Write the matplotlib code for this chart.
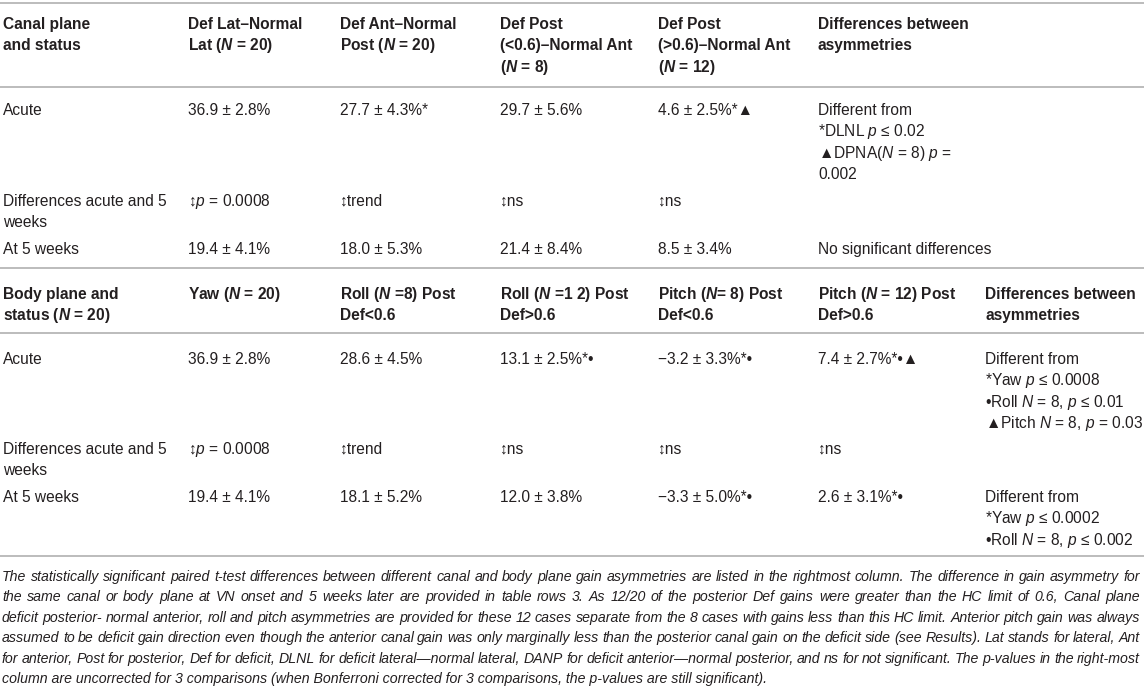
import matplotlib
matplotlib.use("Agg")
import matplotlib.pyplot as plt

plt.rcParams['font.family'] = ['Liberation Sans', 'DejaVu Sans']
plt.rcParams['mathtext.fontset'] = 'custom'
plt.rcParams['mathtext.rm'] = 'Liberation Sans'
plt.rcParams['mathtext.it'] = 'Liberation Sans:italic'
plt.rcParams['mathtext.bf'] = 'Liberation Sans:bold'
plt.rcParams['mathtext.bfit'] = 'Liberation Sans:italic:bold'

# tabla 1 - planos de canal
canal_header = ["Canal plane\nand status",
                "Def Lat\u2013Normal\nLat ($\\mathbfit{N}$ = 20)",
                "Def Ant\u2013Normal\nPost ($\\mathbfit{N}$ = 20)",
                "Def Post\n(<0.6)\u2013Normal Ant\n($\\mathbfit{N}$ = 8)",
                "Def Post\n(>0.6)\u2013Normal Ant\n($\\mathbfit{N}$ = 12)",
                "Differences between\nasymmetries"]
canal_acute = ["Acute", "36.9 \u00b1 2.8%", "27.7 \u00b1 4.3%*", "29.7 \u00b1 5.6%",
               "4.6 \u00b1 2.5%*\u25b2",
               "Different from\n*DLNL $p$ \u2264 0.02\n\u25b2DPNA($N$ = 8) $p$ =\n0.002"]
canal_change = ["Differences acute and 5\nweeks", "\u2195$p$ = 0.0008", "\u2195trend",
                "\u2195ns", "\u2195ns", ""]
canal_5wk = ["At 5 weeks", "19.4 \u00b1 4.1%", "18.0 \u00b1 5.3%", "21.4 \u00b1 8.4%",
             "8.5 \u00b1 3.4%", "No significant differences"]

# tabla 2 - planos del cuerpo
body_header = ["Body plane and\nstatus ($\\mathbfit{N}$ = 20)",
               "Yaw ($\\mathbfit{N}$ = 20)",
               "Roll ($\\mathbfit{N}$ =8) Post\nDef<0.6",
               "Roll ($\\mathbfit{N}$ =1 2) Post\nDef>0.6",
               "Pitch ($\\mathbfit{N}$= 8) Post\nDef<0.6",
               "Pitch ($\\mathbfit{N}$ = 12) Post\nDef>0.6",
               "Differences between\nasymmetries"]
body_acute = ["Acute", "36.9 \u00b1 2.8%", "28.6 \u00b1 4.5%", "13.1 \u00b1 2.5%*\u2022",
              "\u22123.2 \u00b1 3.3%*\u2022", "7.4 \u00b1 2.7%*\u2022\u25b2",
              "Different from\n*Yaw $p$ \u2264 0.0008\n\u2022Roll $N$ = 8, $p$ \u2264 0.01\n"
              "\u25b2Pitch $N$ = 8, $p$ = 0.03"]
body_change = ["Differences acute and 5\nweeks", "\u2195$p$ = 0.0008", "\u2195trend",
               "\u2195ns", "\u2195ns", "\u2195ns", ""]
body_5wk = ["At 5 weeks", "19.4 \u00b1 4.1%", "18.1 \u00b1 5.2%", "12.0 \u00b1 3.8%",
            "\u22123.3 \u00b1 5.0%*\u2022", "2.6 \u00b1 3.1%*\u2022",
            "Different from\n*Yaw $p$ \u2264 0.0002\n\u2022Roll $N$ = 8, $p$ \u2264 0.002"]

caption = [
    "The statistically significant paired t-test differences between different canal and body plane gain asymmetries are listed in the rightmost column. The difference in gain asymmetry for",
    "the same canal or body plane at VN onset and 5 weeks later are provided in table rows 3. As 12/20 of the posterior Def gains were greater than the HC limit of 0.6, Canal plane",
    "deficit posterior- normal anterior, roll and pitch asymmetries are provided for these 12 cases separate from the 8 cases with gains less than this HC limit. Anterior pitch gain was always",
    "assumed to be deficit gain direction even though the anterior canal gain was only marginally less than the posterior canal gain on the deficit side (see Results). Lat stands for lateral, Ant",
    "for anterior, Post for posterior, Def for deficit, DLNL for deficit lateral\u2014normal lateral, DANP for deficit anterior\u2014normal posterior, and ns for not significant. The p-values in the right-most",
    "column are uncorrected for 3 comparisons (when Bonferroni corrected for 3 comparisons, the p-values are still significant).",
]

W, H = 1144, 686
fig = plt.figure(figsize=(W / 100, H / 100), dpi=100)
ax = fig.add_axes([0, 0, 1, 1])
ax.set_xlim(0, W)
ax.set_ylim(H, 0)
ax.axis('off')

txt = '#231f20'
lc = '#bcbcbc'
cols1 = [3, 188, 340, 500, 658, 818]
cols2 = [3, 188, 340, 500, 658, 818, 985]
lh = 21.3
fs = 11.2


def fila(x_list, valores, y, **kw):
    for x, v in zip(x_list, valores):
        for i, linea in enumerate(v.split('\n')):
            if linea:
                ax.text(x, y + i * lh, linea, color=txt, fontsize=fs,
                        va='baseline', ha='left', **kw)


for yl in [3, 87, 268, 333, 556]:
    ax.plot([0, W], [yl, yl], color=lc, lw=1.4, solid_capstyle='butt')

fila(cols1, canal_header, 29, fontweight='bold')
fila(cols1, canal_acute, 115)
fila(cols1, canal_change, 206)
fila(cols1, canal_5wk, 254)

fila(cols2, body_header, 299, fontweight='bold')
fila(cols2, body_acute, 364)
fila(cols2, body_change, 454)
fila(cols2, body_5wk, 502)

# pie de tabla justificado
r = fig.canvas.get_renderer()
x0, x1 = 2, 1140
for k, linea in enumerate(caption):
    y = 581 + k * 20.4
    if k == len(caption) - 1:
        ax.text(x0, y, linea, color=txt, fontsize=10.2, style='italic',
                va='baseline', ha='left')
        continue
    palabras = linea.split(' ')
    objs = [ax.text(0, y, p, color=txt, fontsize=10.2, style='italic',
                    va='baseline', ha='left') for p in palabras]
    anchos = [o.get_window_extent(r).width for o in objs]
    gap = (x1 - x0 - sum(anchos)) / (len(palabras) - 1)
    x = x0
    for o, a in zip(objs, anchos):
        o.set_x(x)
        x += a + gap

fig.savefig('out.png', dpi=100)
